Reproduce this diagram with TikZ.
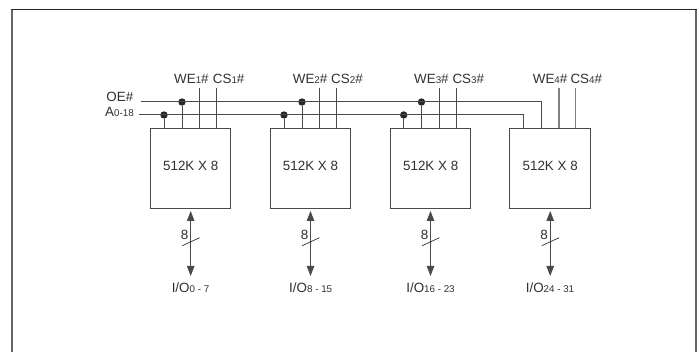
\documentclass[tikz,border=0pt]{standalone}
\usepackage{fontspec}
\setmainfont{Liberation Sans}
\usepackage{xcolor}
\usetikzlibrary{arrows.meta}
\definecolor{linecolor}{HTML}{4A4A4A}
\definecolor{textcolor}{HTML}{303030}
\definecolor{framecolor}{HTML}{666666}
\definecolor{sidecolor}{HTML}{808080}
\newcommand{\lowtext}[1]{{\fontsize{9.8}{10}\selectfont #1}}
\tikzset{
  membox/.style={draw=linecolor, line width=1pt, rectangle, minimum width=80.5pt, minimum height=80pt, inner sep=0pt},
  lbl/.style={inner sep=0pt, text=textcolor, font=\fontsize{13.4}{15}\selectfont},
  tap/.style={circle, fill=black!85, inner sep=0pt, minimum size=7.4pt},
  wire/.style={draw=linecolor, line width=1pt},
  sidewire/.style={draw=sidecolor, line width=1.3pt},
  iobus/.style={draw=linecolor, line width=1pt, {Triangle[length=10pt,width=7.5pt]}-{Triangle[length=10pt,width=7.5pt]}},
  slash/.style={draw=textcolor, line width=0.7pt}
}

\begin{document}
\begin{tikzpicture}[x=1pt, y=-1pt]%
\useasboundingbox (0,0) rectangle (699,352);%
% outer frame, open at the bottom
\draw[framecolor, line width=2pt] (12,352) -- (12,9.8);%
\draw[framecolor, line width=2pt] (696,352) -- (696,9.8);%
\draw[black!85, line width=1.5pt] (11,9.5) -- (697,9.5);%
% memory blocks
\node[membox] (mem1) at (190.7,169) {};%
\node[membox] (mem2) at (310.5,169) {};%
\node[membox] (mem3) at (430.7,169) {};%
\node[membox] (mem4) at (550.2,169) {};%
\node[lbl, anchor=base] (memtxt1) at (190.7,171) {512K X 8};%
\node[lbl, anchor=base] (memtxt2) at (310.5,171) {512K X 8};%
\node[lbl, anchor=base] (memtxt3) at (430.7,171) {512K X 8};%
\node[lbl, anchor=base] (memtxt4) at (550.2,171) {512K X 8};%
% shared lines
\node[lbl, anchor=base east] (oelbl) at (133.5,102) {OE\#};%
\node[lbl, anchor=base east] (addrlbl) at (134,117) {A\lowtext{0-18}};%
\coordinate (oestart) at (140.5,102);%
\coordinate (addrstart) at (139,115);%
\node[tap] (oetap1) at (182,102) {};%
\node[tap] (oetap2) at (302,102) {};%
\node[tap] (oetap3) at (421.5,102) {};%
\node[tap] (addrtap1) at (164,115) {};%
\node[tap] (addrtap2) at (284,115) {};%
\node[tap] (addrtap3) at (403.7,115) {};%
\coordinate (oeend) at (541.3,129);%
\coordinate (addrend) at (523.7,129);%
\draw[wire] (oestart) -- (oeend |- oestart) -- (oeend);%
\draw[wire] (addrstart) -- (addrend |- addrstart) -- (addrend);%
\draw[wire] (oetap1) -- (oetap1 |- mem1.north);%
\draw[wire] (oetap2) -- (oetap2 |- mem2.north);%
\draw[wire] (oetap3) -- (oetap3 |- mem3.north);%
\draw[wire] (addrtap1) -- (addrtap1 |- mem1.north);%
\draw[wire] (addrtap2) -- (addrtap2 |- mem2.north);%
\draw[wire] (addrtap3) -- (addrtap3 |- mem3.north);%
% write and chip select
\node[lbl, anchor=base west] (we1) at (174,84) {WE\lowtext{1}\#};%
\node[lbl, anchor=base west] (cs1) at (212.7,84) {CS\lowtext{1}\#};%
\node[lbl, anchor=base west] (we2) at (292.7,84) {WE\lowtext{2}\#};%
\node[lbl, anchor=base west] (cs2) at (331,84) {CS\lowtext{2}\#};%
\node[lbl, anchor=base west] (we3) at (414,84) {WE\lowtext{3}\#};%
\node[lbl, anchor=base west] (cs3) at (452.3,84) {CS\lowtext{3}\#};%
\node[lbl, anchor=base west] (we4) at (532.7,84) {WE\lowtext{4}\#};%
\node[lbl, anchor=base west] (cs4) at (570.3,84) {CS\lowtext{4}\#};%
\coordinate (wetop1) at (199.7,88);%
\coordinate (cstop1) at (216.7,88);%
\coordinate (wetop2) at (319.3,88);%
\coordinate (cstop2) at (336.3,88);%
\coordinate (wetop3) at (439.7,88);%
\coordinate (cstop3) at (456.3,88);%
\coordinate (wetop4) at (559,88);%
\coordinate (cstop4) at (575.7,88);%
\draw[wire] (wetop1) -- (wetop1 |- mem1.north);%
\draw[wire] (cstop1) -- (cstop1 |- mem1.north);%
\draw[wire] (wetop2) -- (wetop2 |- mem2.north);%
\draw[wire] (cstop2) -- (cstop2 |- mem2.north);%
\draw[wire] (wetop3) -- (wetop3 |- mem3.north);%
\draw[wire] (cstop3) -- (cstop3 |- mem3.north);%
\draw[sidewire] (wetop4) -- (wetop4 |- mem4.north);%
\draw[sidewire] (cstop4) -- (cstop4 |- mem4.north);%
% data buses
\node[lbl, anchor=base] (io1) at (190.5,292.5) {I/O\lowtext{0 - 7}};%
\node[lbl, anchor=base] (io2) at (310.7,292.5) {I/O\lowtext{8 - 15}};%
\node[lbl, anchor=base] (io3) at (430.5,292.5) {I/O\lowtext{16 - 23}};%
\node[lbl, anchor=base] (io4) at (550,292.5) {I/O\lowtext{24 - 31}};%
\coordinate (busend1) at (190.7,276);%
\coordinate (busend2) at (310.5,276);%
\coordinate (busend3) at (430.5,276);%
\coordinate (busend4) at (550.2,276);%
\draw[iobus] (busend1 |- mem1.south) ++(0,1.5) coordinate (bustop1) -- (busend1);%
\draw[iobus] (busend2 |- mem2.south) ++(0,1.5) coordinate (bustop2) -- (busend2);%
\draw[iobus] (busend3 |- mem3.south) ++(0,1.5) coordinate (bustop3) -- (busend3);%
\draw[iobus] (busend4 |- mem4.south) ++(0,1.5) coordinate (bustop4) -- (busend4);%
\node[lbl, anchor=base] (width1) at (184.7,240) {8};%
\node[lbl, anchor=base] (width2) at (304.5,240) {8};%
\node[lbl, anchor=base] (width3) at (424.5,240) {8};%
\node[lbl, anchor=base] (width4) at (544.2,240) {8};%
\draw[slash] (182.3,245.7) -- (199.7,237.7);%
\draw[slash] (302.1,245.7) -- (319.5,237.7);%
\draw[slash] (422.1,245.7) -- (439.5,237.7);%
\draw[slash] (541.8,245.7) -- (559.2,237.7);%
\end{tikzpicture}
\end{document}
